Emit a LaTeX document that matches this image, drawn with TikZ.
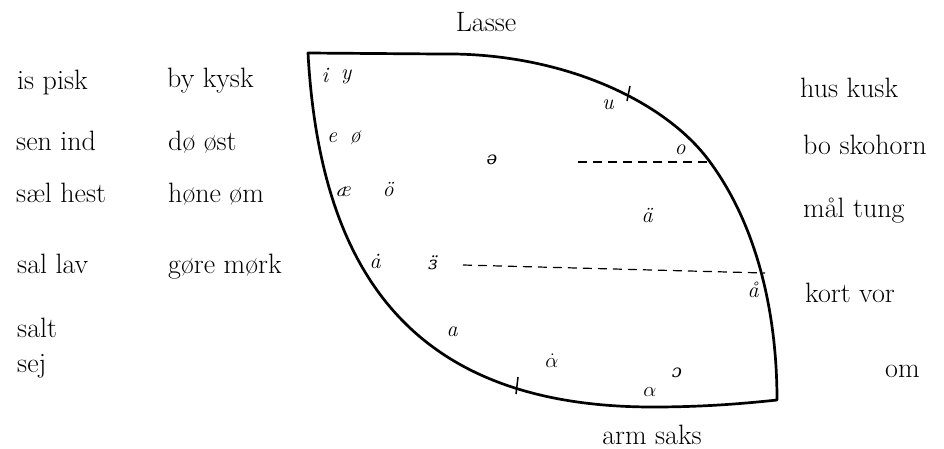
\documentclass[tikz,border=0pt]{standalone}
\usepackage{fontspec}
\newfontfamily\ipafont{DejaVu Serif}
\begin{document}
\begin{tikzpicture}[x=1pt,y=-1pt,
  word/.style={anchor=base west,inner sep=0pt,font=\fontsize{28}{30}\selectfont},
  sym/.style={inner sep=0pt,font=\fontsize{22}{24}\selectfont\itshape},
  ipa/.style={inner sep=0pt,font=\fontsize{18}{20}\selectfont\ipafont\itshape},
  outline/.style={line width=2.7pt,line join=round},
  dashline/.style={line width=1.2pt,dash pattern=on 9pt off 6pt},
  tick/.style={line width=1.5pt}]
\useasboundingbox (0,0) rectangle (944,448);
% outline
\coordinate (tl) at (308,53);
\coordinate (bot) at (653,407);
\coordinate (br) at (777,400);
\coordinate (rt) at (710,162);
\coordinate (tf) at (440,54);
\draw[outline] (tl) .. controls (320,270) and (410,407) .. (bot)
  .. controls (700,407) and (740,404) .. (br)
  .. controls (777,320) and (760,230) .. (rt)
  .. controls (665,100) and (560,52) .. (tf)
  -- cycle;
% dashed lines
\coordinate (d1a) at (578,162);
\coordinate (d1b) at (710,162);
\coordinate (d2a) at (463,265);
\coordinate (d2b) at (765,273);
\draw[dashline] (d1a) -- (d1b);
\draw[dashline] (d2a) -- (d2b);
% ticks
\coordinate (t1a) at (630,86); \coordinate (t1b) at (627,101);
\coordinate (t2a) at (518,377); \coordinate (t2b) at (516,394);
\draw[tick] (t1a) -- (t1b);
\draw[tick] (t2a) -- (t2b);
% titles
\node[word,anchor=base] (lasse) at (486,31) {Lasse};
\node[word,anchor=base] (armsaks) at (652,444) {arm saks};
% left columns
\node[word] (w1) at (17,89) {is pisk};
\node[word] (w2) at (167,87) {by kysk};
\node[word] (w3) at (16,150) {sen ind};
\node[word] (w4) at (168,150) {dø øst};
\node[word] (w5) at (16,202) {sæl hest};
\node[word] (w6) at (168,202) {høne øm};
\node[word] (w7) at (17,273) {sal lav};
\node[word] (w8) at (168,273) {gøre mørk};
\node[word] (w9) at (17,337) {salt};
\node[word] (w10) at (17,372) {sej};
% right column
\node[word] (r1) at (800,97) {hus kusk};
\node[word] (r2) at (803,154) {bo skohorn};
\node[word] (r3) at (803,217) {mål tung};
\node[word] (r4) at (805,302) {kort vor};
\node[word] (r5) at (885,377) {om};
% symbols inside
\node[sym] (si) at (325,75) {i};
\node[sym] (sy) at (346,77) {y};
\node[sym] (se) at (332,138) {e};
\node[sym] (so) at (355,138) {ø};
\node[sym] (sae) at (343,192) {æ};
\node[sym] (soo) at (388,190) {ö};
\node[ipa] (sschwa) at (492,160) {ə};
\node[sym] (su) at (608,105) {u};
\node[sym] (sou) at (680,150) {o};
\node[sym] (sauml) at (647,216) {ä};
\node[sym] (saring) at (753,290) {å};
\node[sym] (sadot) at (375,261) {\.a};
\node[ipa] (sopen) at (433,263) {\"{ɜ}};
\node[sym] (sa) at (452,332) {a};
\node[sym] (salphadot) at (552,361) {$\dot\alpha$};
\node[sym] (salpha) at (650,392) {$\alpha$};
\node[ipa] (sopeno) at (677,373) {ɔ};
\end{tikzpicture}
\end{document}
